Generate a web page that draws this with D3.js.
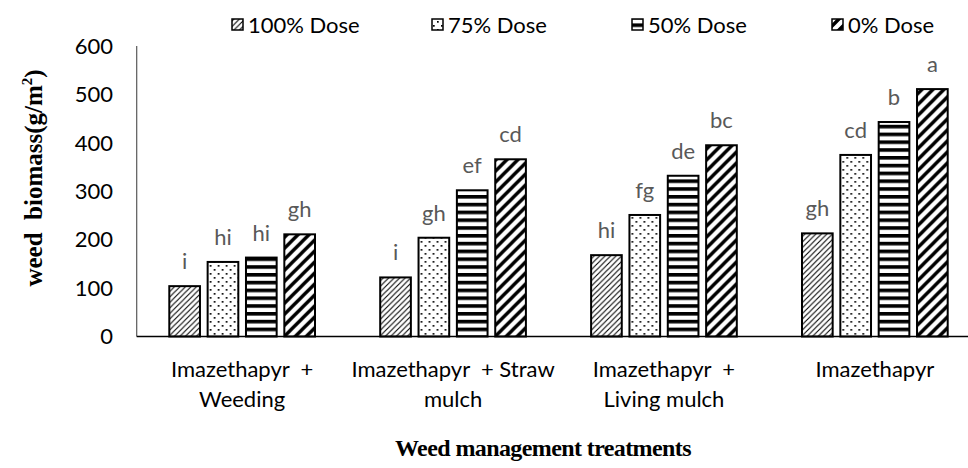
<!DOCTYPE html>
<html><head><meta charset="utf-8">
<script src="https://cdn.jsdelivr.net/npm/d3@7"></script>
<style>
body{margin:0;background:#fff;}
svg{display:block;}
text{white-space:pre;}
</style></head>
<body>
<svg id="chart" width="968" height="468"></svg>
<script>
const categories = [
  ["Imazethapyr  +", "Weeding"],
  ["Imazethapyr  + Straw", "mulch"],
  ["Imazethapyr  +", "Living mulch"],
  ["Imazethapyr"]
];
const series = ["100% Dose", "75% Dose", "50% Dose", "0% Dose"];
const values100 = [104, 122, 168, 213];
const values75  = [154, 204, 251, 375];
const values50  = [163, 302, 332, 443];
const values0   = [211, 366, 395, 511];
const letters100 = ["i", "i", "hi", "gh"];
const letters75  = ["hi", "gh", "fg", "cd"];
const letters50  = ["hi", "ef", "de", "b"];
const letters0   = ["gh", "cd", "bc", "a"];
const yTicks = [0, 100, 200, 300, 400, 500, 600];

const seriesValues = [values100, values75, values50, values0];
const seriesLetters = [letters100, letters75, letters50, letters0];
const catKeys = categories.map((c, i) => "c" + i);

const svg = d3.select("#chart");
const mLeft = 136.7, mRight = 980.3, mTop = 46, mBottom = 336.5;
const sansFont = "Lato, 'Open Sans', sans-serif";
const serifFont = "'Liberation Serif', 'DejaVu Serif', serif";

const x0 = d3.scaleBand().domain(catKeys).range([mLeft, mRight]).padding(0);
const x1 = d3.scaleBand().domain(series).range([32.6, 178.3]).paddingInner(0.2).paddingOuter(0);
const y = d3.scaleLinear().domain([0, 600]).range([mBottom, mTop]);

// patterns
const defs = svg.append("defs");
const patIds = ["p100", "p75", "p50", "p0"];
let p = defs.append("pattern").attr("id", "p100").attr("patternUnits", "userSpaceOnUse")
  .attr("width", 5.5).attr("height", 5.5);
p.append("rect").attr("width", 5.5).attr("height", 5.5).attr("fill", "#fff");
p.append("path").attr("d", "M-1,1 L1,-1 M0,5.5 L5.5,0 M4.5,6.5 L6.5,4.5").attr("stroke", "#000").attr("stroke-width", 1.1);
p = defs.append("pattern").attr("id", "p75").attr("patternUnits", "userSpaceOnUse")
  .attr("width", 8).attr("height", 8);
p.append("rect").attr("width", 8).attr("height", 8).attr("fill", "#fff");
p.append("rect").attr("x", 1).attr("y", 1).attr("width", 1.7).attr("height", 1.7).attr("fill", "#000");
p.append("rect").attr("x", 5).attr("y", 5).attr("width", 1.7).attr("height", 1.7).attr("fill", "#000");
p = defs.append("pattern").attr("id", "p50").attr("patternUnits", "userSpaceOnUse")
  .attr("width", 8).attr("height", 7.8);
p.append("rect").attr("width", 8).attr("height", 7.8).attr("fill", "#fff");
p.append("rect").attr("y", 0).attr("width", 8).attr("height", 3.6).attr("fill", "#000");
p = defs.append("pattern").attr("id", "p0").attr("patternUnits", "userSpaceOnUse")
  .attr("width", 11).attr("height", 11);
p.append("rect").attr("width", 11).attr("height", 11).attr("fill", "#fff");
p.append("path").attr("d", "M-2,2 L2,-2 M0,11 L11,0 M9,13 L13,9").attr("stroke", "#000").attr("stroke-width", 3.4);

// y axis line
svg.append("line").attr("x1", mLeft).attr("x2", mLeft).attr("y1", y(600)).attr("y2", y(0))
  .attr("stroke", "#595959").attr("stroke-width", 1.2);

// y tick labels
svg.append("g").selectAll("text").data(yTicks).join("text")
  .attr("x", 113).attr("y", d => y(d)).attr("dy", "0.35em")
  .attr("text-anchor", "end").attr("font-family", sansFont).attr("font-size", 22)
  .attr("fill", "#000").text(d => d);

// bars
const groups = svg.append("g").selectAll("g").data(catKeys).join("g")
  .attr("transform", d => `translate(${x0(d)},0)`);
groups.each(function(ck, ci) {
  const g = d3.select(this);
  const rows = series.map((s, si) => ({s, si, v: seriesValues[si][ci], l: seriesLetters[si][ci]}));
  g.selectAll("rect").data(rows).join("rect")
    .attr("x", d => x1(d.s)).attr("width", x1.bandwidth())
    .attr("y", d => y(d.v)).attr("height", d => y(0) - y(d.v))
    .attr("fill", d => `url(#${patIds[d.si]})`)
    .attr("stroke", "#000").attr("stroke-width", 2);
  g.selectAll("text.lab").data(rows).join("text").attr("class", "lab")
    .attr("x", d => x1(d.s) + x1.bandwidth() / 2).attr("y", d => y(d.v) - 17)
    .attr("text-anchor", "middle").attr("font-family", sansFont).attr("font-size", 22)
    .attr("fill", "#595959").text(d => d.l);
});

// x axis line
svg.append("line").attr("x1", mLeft).attr("x2", mRight).attr("y1", y(0)).attr("y2", y(0))
  .attr("stroke", "#000").attr("stroke-width", 1.5);

// category labels
catKeys.forEach((ck, ci) => {
  const t = svg.append("text").attr("text-anchor", "middle")
    .attr("font-family", sansFont).attr("font-size", 22).attr("fill", "#000");
  categories[ci].forEach((line, li) => {
    t.append("tspan").attr("x", x0(ck) + x0.bandwidth() / 2).attr("y", 377 + li * 30).text(line);
  });
});

// legend
const legend = svg.append("g");
series.forEach((s, si) => {
  const lx = 232 + si * 200;
  legend.append("rect").attr("x", lx).attr("y", 19).attr("width", 11).attr("height", 11)
    .attr("fill", `url(#${patIds[si]})`).attr("stroke", "#000").attr("stroke-width", 1.5);
  legend.append("text").attr("x", lx + 16).attr("y", 25).attr("dy", "0.35em")
    .attr("font-family", sansFont).attr("font-size", 22).attr("fill", "#000").text(s);
});

// y title
const yt = svg.append("text").attr("transform", "translate(42,178) rotate(-90)")
  .attr("text-anchor", "middle").attr("font-family", serifFont).attr("font-weight", "bold")
  .attr("font-size", 25).attr("fill", "#000");
yt.append("tspan").text("weed  biomass(g/m");
yt.append("tspan").attr("font-size", 15).attr("dy", -10).text("2");
yt.append("tspan").attr("dy", 10).text(")");

// x title
svg.append("text").attr("x", 543).attr("y", 456).attr("text-anchor", "middle")
  .attr("font-family", serifFont).attr("font-weight", "bold").attr("font-size", 24)
  .attr("letter-spacing", -0.6).attr("fill", "#000").text("Weed management treatments");
</script>
</body></html>
